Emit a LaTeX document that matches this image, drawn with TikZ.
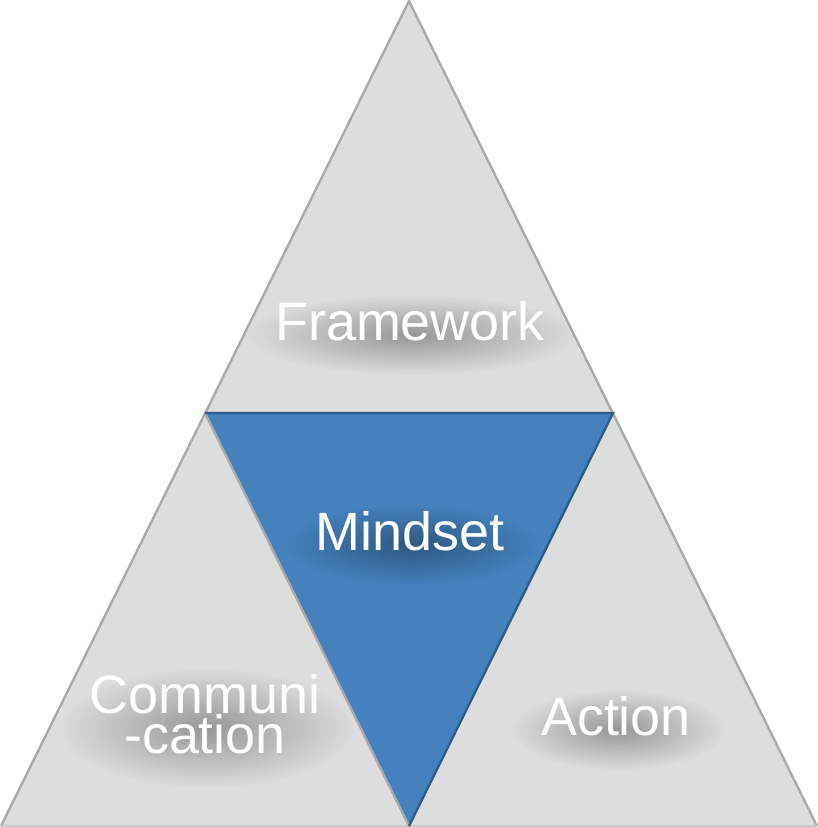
\documentclass[tikz,border=0pt]{standalone}
\usepackage{fontspec}
\setmainfont{Liberation Sans}
\usepackage{tikz}
\usetikzlibrary{positioning, calc, fadings}
\definecolor{trigray}{RGB}{220, 221, 221}
\definecolor{edgegray}{RGB}{170, 170, 170}
\definecolor{basegray}{RGB}{200, 200, 200}
\definecolor{mindblue}{RGB}{68, 129, 189}
\definecolor{mindedge}{RGB}{44, 92, 140}
\tikzfading[name=softshadow, inner color=transparent!30, outer color=transparent!100]
\pgfdeclarelayer{front}
\pgfsetlayers{main,front}

\begin{document}
\begin{tikzpicture}[x=0.03cm, y=-0.03cm,
    tritext/.style={text=white, font=\fontsize{46}{30}\selectfont, inner sep=0pt, align=center, anchor=base},
    trishadow/.style={black, opacity=0.45, path fading=softshadow}]
    \useasboundingbox (0,0) rectangle (818,827);
    \coordinate (top) at (409,1);
    \coordinate (bl) at (1,826);
    \coordinate (br) at (817,826);
    \coordinate (ml) at (205,413);
    \coordinate (mr) at (613,413);
    \coordinate (mb) at (409,826);
    % outer triangle
    \fill[trigray] (top) -- (bl) -- (br) -- cycle;
    \draw[edgegray, line width=2pt] (bl) -- (top) -- (br);
    \draw[basegray, line width=2pt] (bl) -- (br);
    % inner triangle
    \fill[mindblue] (ml) -- (mr) -- (mb) -- cycle;
    \draw[edgegray, line width=2pt] (ml) -- (mb);
    \draw[mindedge, line width=2pt] (ml) -- (mr) -- (mb);
    % labels with soft shadow
    \foreach \name/\px/\py/\txt in {framework/410/340/Framework, mindset/410/550/Mindset, communication/205/753/{Communi\\[-1pt]-cation}, action/616/735/Action} {
        \begin{pgfonlayer}{front}
            \node[tritext] (\name) at (\px,\py) {\txt};
        \end{pgfonlayer}
        \fill[trishadow] ($(\name.north west)+(-30,-6)$) rectangle ($(\name.south east)+(34,34)$);
    }
\end{tikzpicture}
\end{document}
